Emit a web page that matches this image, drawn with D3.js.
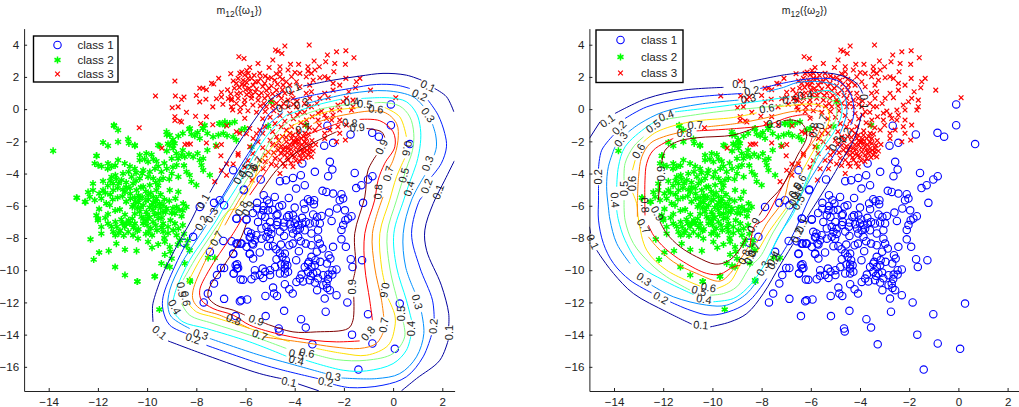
<!DOCTYPE html>
<html>
<head>
<meta charset="utf-8">
<script src="https://cdn.jsdelivr.net/npm/d3@7"></script>
<style>
body { margin: 0; background: #fff; }
text { font-family: "Liberation Sans", Arial, sans-serif; fill: #222; }
</style>
</head>
<body>
<div id="chart"></div>
<script>
const xTicks = [-14, -12, -10, -8, -6, -4, -2, 0, 2];
const yTicks = [4, 2, 0, -2, -4, -6, -8, -10, -12, -14, -16];
const levels = ["0.1", "0.2", "0.3", "0.4", "0.5", "0.6", "0.7", "0.8", "0.9"];
const levelColors = ["#00009f", "#0020ff", "#0090ff", "#00ffff", "#80ff80", "#ffe000", "#ff8000", "#ff0000", "#800000"];
const classNames = ["class 1", "class 2", "class 3"];

const class1 = [[-3.18,-3.89],[-2.47,-3.75],[-1.56,-3.96],[-2.64,-4.16],[-3.75,-4.1],[-4.07,-4.27],[-4.36,-4.41],[-4.6,-4.47],[-0.84,-4.16],[-1.02,-4.37],[-1.29,-4.72],[-1.5,-4.9],[-3.59,-4.72],[-3.94,-4.93],[-2.87,-5.07],[-2.71,-5.14],[-2.44,-5.24],[-2.1,-5.28],[-2.03,-5.55],[-2.17,-5.65],[-6.07,-5.03],[-5.26,-5.34],[-4.81,-5.45],[-4.24,-5.51],[-5.12,-5.65],[-5.53,-5.82],[-5.04,-5.86],[-3.46,-5.59],[-3.37,-5.72],[-3.21,-5.65],[-3.63,-5.86],[-3.22,-5.9],[-1.22,-5.82],[-4.51,-5.96],[-4.63,-6.05],[-4,-6.11],[-5.26,-6.01],[-5.53,-6.17],[-5.28,-6.28],[-5.08,-6.28],[-2.28,-6.17],[-1.96,-6.28],[-2.6,-6.42],[-3.59,-6.21],[-3.25,-6.54],[-2.91,-6.63],[-3.09,-6.69],[-4.74,-6.59],[-4.7,-6.52],[-4.24,-6.59],[-4.31,-6.69],[-4.07,-6.59],[-6.37,-6.79],[-5.96,-6.83],[-5.35,-6.59],[-5.49,-7],[-5,-7],[-4.7,-7],[-4.43,-7.04],[-4,-7.1],[-3.86,-7.2],[-3.7,-7.1],[-3.55,-7],[-3.39,-7.1],[-3.18,-7.04],[-2.98,-7.1],[-2.5,-6.94],[-1.69,-6.65],[-1.83,-6.79],[-1.94,-6.9],[-2.03,-7.2],[-2.1,-7.5],[-5.35,-7.41],[-5.15,-7.31],[-4.95,-7.41],[-4.74,-7.2],[-5.08,-7.62],[-5.9,-7.62],[-5.77,-7.72],[-5.56,-7.83],[-5.83,-7.95],[-4.12,-7.41],[-3.93,-7.52],[-3.79,-7.41],[-3.59,-7.52],[-4.07,-7.72],[-3.86,-7.93],[-3.32,-7.72],[-3.05,-7.52],[-4.43,-7.87],[-5.15,-7.93],[-5.01,-8.04],[-5.35,-8.04],[-5.62,-8.14],[-6.16,-8.35],[-6.37,-8.35],[-6.57,-8.2],[-5.69,-8.41],[-5.96,-8.55],[-5.08,-8.51],[-4.88,-8.51],[-4.56,-8.41],[-4.22,-8.45],[-4.08,-8.35],[-3.05,-8.04],[-2.98,-8.35],[-3.32,-8.45],[-2.87,-8.66],[-2.44,-8.55],[-2.1,-8.08],[-1.92,-8.55],[-6.5,-8.97],[-5.42,-8.9],[-5.82,-8.97],[-5.69,-9.28],[-4.74,-9.32],[-4.4,-8.97],[-4.5,-9.17],[-4.36,-9.38],[-3.83,-8.82],[-3.94,-9.38],[-3.32,-9.17],[-3.16,-9.38],[-3.42,-9.48],[-2.96,-9.48],[-2.62,-9.07],[-2.55,-9.28],[-2.69,-9.59],[-1.72,-9.32],[-1.26,-9.38],[-1.65,-9.8],[-6.34,-9.63],[-6.3,-9.86],[-6.48,-10.21],[-6.2,-10.58],[-5.62,-10],[-5.76,-10.56],[-5.42,-10.3],[-5.62,-10.35],[-5.28,-10.48],[-5.2,-10.1],[-5,-10],[-4.8,-9.8],[-5,-10.3],[-4.6,-10.2],[-4.4,-9.9],[-4.4,-10.2],[-4.27,-10.1],[-4.4,-9.65],[-3.59,-9.8],[-3.46,-9.6],[-3.32,-9.8],[-3.18,-9.7],[-3.46,-10.1],[-3.25,-10.2],[-3.1,-10.15],[-3.72,-10.27],[-3.79,-10.52],[-3.66,-10.7],[-3.93,-10.73],[-2.84,-10.31],[-2.63,-10.27],[-2.47,-10],[-2.47,-10.27],[-3.39,-10.62],[-3.18,-10.77],[-2.84,-10.93],[-2.71,-10.83],[-2.68,-11.1],[-2.57,-11.24],[-3.09,-11.24],[-4.4,-10.87],[-4.88,-11.08],[-4.22,-11.18],[-4.08,-11.45],[-2.3,-11.55],[-2.78,-11.76],[-1.86,-12],[-5.19,-11.6],[-4.84,-11.45],[-4.72,-11.6],[-6.17,-11.87],[-5.93,-11.82],[-6.23,-11.93],[0.27,-12.07],[-1.02,-12.73],[-2.74,-12.58],[-4.43,-12.52],[-5.18,-12.85],[-6.4,-12.85],[-3.74,-13.04],[-3.55,-13.56],[-4.65,-13.62],[-4.62,-13.8],[-1.67,-14],[-0.84,-14.55],[-3.28,-14.6],[0.07,-14.88],[-1.41,-16.17],[-6.87,-11.78],[-7.86,-6.07],[-7.28,-5.82],[-7.05,-5.65],[-6.87,-5.96],[-6.5,-3.79],[-6.06,-4.99],[-5.38,-4.37],[-6.36,-6.8],[-5.96,-6.86],[-8.13,-7.93],[-8.5,-8.3],[-7.45,-8.86],[-6.9,-8.18],[-6.33,-8.35],[-6.2,-8.35],[-6.5,-9],[-5.83,-9],[-7,-9.86],[-6.87,-9.86],[-7.28,-10.83],[-7.16,-10.3],[-7.53,-11.45],[-7.7,-12],[-6.4,-9.7],[-6.35,-9.9],[-6.48,-10.2],[-6.1,-10.6],[-5.73,-8.35],[-5.8,-7.93],[-0.09,0.29],[-0.09,-1],[0.68,-2.17],[-0.85,-1.47],[-0.58,-1.71],[-1.73,-1.57],[-2.44,-2.09],[-2.8,-2.27],[-2.67,-1.03],[-2.57,-3.27],[-3.69,-3.37],[-4.95,-7.75],[-4.6,-7.6],[-4.45,-7.3],[-4.2,-7.15],[-3.95,-6.85],[-3.7,-6.75],[-5.2,-6.7],[-4.9,-6.25],[-5.7,-6.45],[-3.1,-8.85],[-3.75,-8.2],[-3.55,-8.35],[-4.6,-8.95],[-4.75,-8.7],[-3.05,-10.5],[-3.35,-10.35],[-4.55,-9.65],[-4.3,-9.7],[-2.3,-9.95],[-2.65,-10.55],[-5.3,-9.9]];

const class2 = [[-11.34,-1.04],[-11.18,-1.3],[-11.79,-2.07],[-11.59,-2.28],[-11.18,-2.03],[-10.77,-1.86],[-10.74,-2.13],[-10.5,-2.28],[-12.06,-2.9],[-12.13,-3.37],[-11.99,-3.48],[-11.59,-3.37],[-11.45,-3.58],[-11.18,-3.17],[-10.91,-3.37],[-10.5,-3.69],[-10.3,-2.86],[-10.03,-2.75],[-9.82,-2.82],[-10.3,-3.17],[-9.96,-3.27],[-9.62,-3.23],[-9.49,-2.28],[-9.08,-2.24],[-8.88,-2.13],[-9.21,-1.41],[-9.08,-1.62],[-8.73,-1.68],[-8.29,-1.24],[-8.06,-1.66],[-7.86,-1.82],[-7.72,-1.2],[-7.66,-1],[-7.32,-1.72],[-7.07,-0.89],[-6.84,-0.79],[-6.64,-0.89],[-6.44,-0.79],[-6.17,-1.3],[-6.5,-1.72],[-6.37,-1.93],[-6.84,-1],[-6.03,-1.2],[-8.94,-2.44],[-8.81,-2.75],[-8.6,-2.86],[-9,-3.07],[-8.74,-3.07],[-8.47,-2.96],[-8.13,-2.96],[-7.86,-3.17],[-7.72,-3.07],[-7.79,-3.48],[-7.72,-3.79],[-7.45,-4.1],[-8.27,-4.1],[-8.2,-4.5],[-8,-4.72],[-8.8,-3.48],[-9.2,-3.69],[-9.42,-3.9],[-8.73,-4.2],[-9,-4],[-9.35,-4.3],[-8.73,-5.14],[-9.08,-5.03],[-9.49,-4.41],[-9.68,-3.69],[-9.89,-3.9],[-10.16,-3.79],[-9.96,-4.2],[-10.3,-4.3],[-10.63,-4.2],[-10.57,-4.62],[-10.98,-4],[-11.29,-4.1],[-11.45,-4.2],[-11.04,-4.41],[-11.38,-4.62],[-11.79,-4.47],[-12.2,-4.62],[-11.79,-5.03],[-11.38,-5.03],[-12.2,-5.03],[-12.33,-5.45],[-12.13,-5.65],[-12.85,-5.51],[-12.5,-5.76],[-11.86,-5.55],[-11.66,-5.86],[-11.52,-5.96],[-11.11,-6.23],[-10.98,-5],[-10.68,-5.24],[-10.43,-5.03],[-10.16,-4.82],[-9.89,-4.72],[-9.62,-5.03],[-10.68,-5.55],[-10.47,-5.76],[-10.6,-6.07],[-10.2,-5.45],[-9.96,-5.34],[-9.62,-5.55],[-9.49,-5.86],[-9.8,-5.96],[-10.16,-5.96],[-10.3,-6.38],[-10.03,-6.38],[-9.76,-6.27],[-9.55,-6.48],[-9.21,-6.17],[-8.8,-6.07],[-8.53,-5.86],[-8.4,-6.07],[-8.87,-6.48],[-10.23,-6.69],[-10.16,-6.8],[-9.96,-6.8],[-9.76,-7],[-9.55,-6.8],[-10.16,-7.1],[-10,-7.2],[-12.06,-6.59],[-11.99,-6.8],[-11.86,-7.31],[-11.59,-6.52],[-11.29,-7],[-11.23,-7.31],[-11.59,-7.1],[-11.38,-7.62],[-11.29,-7.83],[-10.91,-7.31],[-10.7,-7.1],[-10.5,-7.1],[-10.77,-7.62],[-10.57,-7.83],[-10.37,-8.04],[-11.86,-7.73],[-12.3,-8.08],[-11.25,-8.35],[-11.95,-8.9],[-12.17,-9.34],[-11.56,-8.8],[-10.9,-8.72],[-10.43,-8.8],[-11.3,-9.8],[-10.9,-10.3],[-10.4,-10.7],[-9.7,-10.4],[-9.35,-7.1],[-9.15,-7.31],[-8.87,-7.1],[-8.73,-7.42],[-8.94,-7.52],[-8.8,-7.83],[-9.35,-7.62],[-9.6,-7.52],[-9.8,-7.83],[-9.96,-8.24],[-9.8,-8.6],[-9.28,-8.24],[-9.08,-8.55],[-8.67,-8.14],[-9.28,-9.03],[-9,-9.28],[-9.42,-9.58],[-9.2,-9.73],[-9.08,-9.8],[-8.47,-9.58],[-8.27,-8.76],[-8.27,-10.62],[-7.52,-9.24],[-7.25,-9.24],[-9.5,-12.44],[-9.68,-10.37],[-10.39,-10.7],[-8.25,-10.7],[-13.82,-2.59],[-11.35,-1],[-12.87,-5.5],[-12.53,-5.76],[-9.2,-1.6],[-8.26,-1.2],[-7.74,-1.2],[-7.04,-0.9],[-9.55,-2.24],[-8.94,-2.1],[-10.5,-2.24],[-12.05,-2.9],[-4.95,0.45],[-5.08,-1.05],[-5.76,-2.34],[-3.55,-1],[-10.05,-5.1],[-9.85,-5.2],[-9.75,-5.45],[-10.35,-5.8],[-10.05,-5.7],[-9.95,-5.6],[-9.65,-5.75],[-9.35,-5.95],[-9.25,-6.4],[-9.9,-6.1],[-10.4,-6.15],[-9.7,-6.55],[-10,-6.55],[-9.4,-6.75],[-10.35,-5.35],[-10.85,-5.75],[-10.9,-6.55],[-11.05,-6.85],[-10.6,-6.8],[-10.35,-7.45],[-9.65,-7.2],[-9.05,-6.9],[-8.95,-6.15],[-9.1,-5.7],[-8.85,-5.55],[-11.2,-4.9],[-11,-5.4],[-11.15,-4.6],[-10.85,-4.85],[-9.1,-4.35],[-9.55,-4.75],[-10.25,-4.85],[-10.45,-4.45],[-8.5,-3.5],[-8.4,-3.9],[-8.95,-3.6],[-7.95,-2.75],[-7.55,-2.55],[-7.2,-2.25],[-7.1,-1.6],[-6.9,-1.5],[-8.55,-7.2],[-8.5,-7.75],[-9.3,-8],[-10.05,-7.75],[-10.4,-7.55],[-11.1,-7.55],[-12.4,-5.15],[-11.95,-5.25],[-11.6,-4.75],[-11.95,-6.2],[-11.3,-6.3],[-10.2,-4],[-10.45,-3.95],[-10.75,-3.9],[-9.75,-4.3],[-9.65,-4.55],[-10.7,-4.9],[-10.9,-5.15],[-10.5,-5.5],[-10.3,-5.55],[-10.55,-5.95],[-10.25,-6.1],[-9.45,-5.3],[-9.3,-5.6],[-9.75,-5.8],[-9.65,-6.05],[-9.45,-6.15],[-9.9,-6.7],[-10.05,-6.95],[-9.35,-6.4],[-10.5,-6.5],[-10.75,-6.9],[-10.85,-7.1],[-11,-7.1],[-10.55,-7.35],[-9.85,-7.4],[-9.95,-7.6],[-9.4,-7.35],[-9.15,-7.7],[-8.6,-6.65],[-8.7,-6.25],[-9,-6.45],[-8.55,-6.3],[-11.5,-5.3],[-11.7,-5.2],[-11.4,-5.6],[-11.2,-5.5],[-11.25,-4.35],[-11.5,-4.45],[-10.85,-4.55],[-11.6,-3.7],[-11.85,-3.55],[-11.3,-3.5],[-10.7,-3.55],[-10.1,-3.1],[-9.75,-3.1],[-9.55,-3.55],[-9.3,-3.35],[-8.55,-2.55],[-8.3,-2.8],[-9.2,-2.6],[-9.15,-2.15],[-8.95,-1.9],[-6.75,-1.65],[-7.55,-1.5],[-7.95,-1.45],[-8.2,-1.55],[-8.55,-1.5],[-12,-6.9],[-11.7,-6.75],[-11.45,-7.3],[-11.15,-7.7],[-10.95,-7.85],[-8.35,-8.15],[-8.4,-8.5],[-8.75,-8.4],[-9.55,-8.4],[-9.05,-8.85]];

const class3 = [[-3.41,3.98],[-4.4,3.92],[-4.78,3.67],[-4.68,3.6],[-4.52,3.46],[-6.27,3.25],[-6.06,3.15],[-4.89,3.05],[-5.49,2.84],[-5.83,2.59],[-5.04,2.59],[-4.6,2.63],[-2.67,3.36],[-2.74,2.94],[-2.3,3.56],[-1.92,3.63],[-1.59,3.19],[-2.37,2.84],[-1.94,2.78],[-3.21,2.99],[-3,2.63],[-3.46,2.63],[-3.84,2.78],[-4.17,2.78],[-4.27,2.43],[-4.6,2.32],[-3.99,2.28],[-3.79,2.22],[-3.46,2.36],[-3.32,2.22],[-3.18,2.43],[-3.53,2.01],[-3.25,1.8],[-3.39,1.49],[-2.41,2.32],[-2.78,2.01],[-2.98,1.95],[-2.64,1.91],[-1.92,1.91],[-1.35,1.91],[-1.49,1.7],[-2.44,1.6],[-2.17,1.49],[-1.53,1.33],[-0.92,1.18],[-1.8,1.08],[-2.44,1.18],[-2.78,0.98],[-2.64,0.71],[-2.98,0.67],[-3.32,1.08],[-3.39,0.67],[-3.53,0.98],[0.11,0.71],[-1.63,0.56],[-1.9,0.67],[-2.03,0.46],[-2.24,0.25],[-1.63,0.15],[-1.69,-0.06],[-2.5,-0.06],[-2.91,-0.12],[-2.78,-0.37],[-2.44,-0.37],[-2.17,-0.06],[-3.32,0.15],[-3.29,-0.47],[-3.05,-0.68],[-3.52,-0.68],[-2.71,-0.58],[-2.5,-0.68],[-2.17,-0.68],[-1.9,-0.99],[-2.24,-1.09],[-3.18,-1.3],[-2.78,-1.5],[-2.57,-1.3],[-2.78,-1.82],[-2.17,-1.5],[-1.94,-1.92],[-2.3,-2.03],[-4.13,-1.82],[-3.93,-2.03],[-3.73,-1.82],[-3.52,-2.13],[-3.39,-2.44],[-3.59,-2.44],[-3.79,-2.34],[-4.07,-2.23],[-4.27,-2.44],[-3.93,-2.65],[-3.66,-2.75],[-3.46,-2.85],[-4.13,-2.75],[-4.4,-2.85],[-4.6,-3.16],[-4.07,-3.58],[-3.86,-1.61],[-4.07,-1.61],[-3.59,-1.5],[-4.47,-2.54],[-4.34,-2.03],[-4,-2.96],[-3.73,-3.06],[-3.32,-2.96],[-3.52,-1.82],[-4.27,-3.16],[-4.47,-3.37],[-4.67,-2.54],[-4.6,-3.99],[-3.59,-1],[-3.89,-0.37],[-4.13,-1.09],[-4.34,-1.3],[-6.23,2.22],[-6.03,2.12],[-5.89,2.22],[-6.3,1.91],[-6.1,1.8],[-5.89,1.91],[-5.42,2.22],[-5.08,1.91],[-4.81,1.8],[-4.6,2.01],[-4.34,1.7],[-4.13,2.01],[-4.47,1.49],[-4.2,1.49],[-3.93,1.7],[-3.79,1.39],[-5.22,1.6],[-5.49,1.7],[-5.69,1.49],[-6.03,1.49],[-6.37,1.6],[-5.04,1.29],[-4.74,1.18],[-4.4,0.98],[-4.13,0.98],[-4.07,0.67],[-4.27,0.56],[-4.54,0.67],[-4.27,0.15],[-4.2,-0.27],[-3.93,0.15],[-3.79,-0.16],[-4.54,0.15],[-4.74,0.36],[-4.95,0.56],[-5.22,0.67],[-5.49,0.56],[-5.76,0.67],[-6.03,0.56],[-6.3,0.67],[-6.57,0.56],[-8.87,1.74],[-9.66,0.82],[-8.85,0.82],[-10.32,-1.16],[-9.4,-2.42],[-8.46,-2.2],[-8.35,-2.17],[-8.24,-2.17],[-8.5,0.75],[-8.6,0.6],[-8,0.85],[-7.86,1.3],[-7.73,1.3],[-7.59,1.2],[-7.38,1.6],[-7.29,1.56],[-7.09,1.91],[-7.86,0.45],[-7.61,0.62],[-8.98,0.08],[-8.74,0.14],[-8.4,-0.2],[-8.87,-0.47],[-8.87,-0.7],[-8.67,-0.74],[-8.6,-0.8],[-8.03,-0.44],[-7.82,-0.89],[-7.59,-0.47],[-7.33,-0.97],[-6.76,-1.03],[-6.98,1.05],[-6.73,1.2],[-6.98,0.75],[-7.18,0.65],[-6.7,0.65],[-6.57,0.65],[-6.92,0.3],[-7.33,0.14],[-6.57,0.14],[-6.37,0.35],[-6.52,-0.05],[-6.23,-0.16],[-6.03,-0.57],[-6.37,-1.4],[-6.23,-1.5],[-7.59,-2.1],[-7.18,-2.3],[-6.98,-2.2],[-7,-2.9],[-6.77,-3.4],[-6.3,-2.75],[-6.98,-3.8],[-7.25,-4.5],[-6.77,-4.1],[-5.73,-4.4],[-6.5,-3.4],[-6.3,-2.86],[-5.9,-3.2],[-6.03,-3.6],[-5.7,-2.76],[-5.83,-2.34],[-5.42,-3.17],[-5.28,-3.7],[-5.62,-3.7],[-5.2,-2.86],[-4.95,-3.4],[-5.08,-2.66],[-5.49,-2.03],[-5.69,-1.82],[-5.55,-1.53],[-5.96,-1.53],[-5.83,-1.2],[-5.42,-1.3],[-5.22,-1.1],[-5,-1.93],[-4.74,-2.24],[-4.74,-1.72],[-6.25,1.35],[-6,1.2],[-5.8,1.1],[-5.6,1.05],[-5.35,1],[-5.1,0.85],[-6.2,1],[-5.95,0.9],[-5.7,0.25],[-5.4,0.2],[-5.15,0.15],[-4.85,-0.1],[-4.6,-0.4],[-5,-0.5],[-5.3,-0.6],[-4.4,-0.75],[-3.8,-2.85],[-3.7,-2.2],[-3.6,-2.65],[-4.2,-2.2],[-3.95,-2.4],[-4.3,-2.7],[-4.55,-2.3],[-3.5,-2.55],[-3.9,-1.85],[-4.15,-2.5],[-3.75,-2.55],[-3.35,-2.25],[-4.5,-1.7],[-4.05,-1.95],[-6.6,2.2],[-6.5,1.75],[-6.45,1.3],[-6.35,0.95],[-6.15,2.3],[-6.15,1.55],[-6.05,0.3],[-5.95,2.4],[-5.95,1.65],[-5.85,1.3],[-5.75,1.9],[-5.75,0.85],[-5.65,2.1],[-5.6,1.7],[-5.55,1.25],[-5.45,0.85],[-5.4,1.9],[-5.3,1.4],[-5.25,0.35],[-5.2,2.05],[-5.15,1.15],[-4.95,1.95],[-4.95,1.45],[-4.9,0.95],[-4.75,2.2],[-4.7,1.55],[-4.65,0.85],[-4.5,1.85],[-4.5,1.2],[-6.6,0.95],[-6.2,0.1],[-5.9,-0.1],[-5.55,-0.2],[-5.2,-0.15],[-4.85,-2.7],[-4.8,-3.05],[-4.65,-1.95],[-4.55,-2.75],[-4.4,-2.35],[-4.35,-1.75],[-4.3,-3],[-4.2,-1.5],[-4.1,-2.9],[-4,-2.05],[-3.95,-3.2],[-3.85,-1.35],[-3.85,-2.1],[-3.8,-3.25],[-3.65,-1.7],[-3.6,-2.05],[-3.55,-3],[-3.45,-1.55],[-3.4,-2.65],[-3.3,-1.95],[-3.25,-2.6],[-3.15,-2.2],[-4.75,-3.5],[-4.4,-3.55],[-4.15,-3.35],[-5.2,-3.25],[-5.3,-2.4],[-4.9,-2.2],[-3.9,0.5],[-3.6,0.35],[-3.6,-0.2],[-3.45,0.15],[-3.1,0.35],[-3.05,-0.25],[-4.05,-0.6],[-3.75,-0.85],[-3.4,-1.15],[-3,-1],[-4.55,-1.1],[-4.8,-0.9],[-4.05,0.3],[-4.45,0.35],[-4.9,0.2],[-5.3,-1.5],[-4.9,-1.4]];

// contour pieces per level, broken where the labels sit
const left01 = [[[1.69,1.28],[2.17,0.77],[2.47,-0.17]],[[2.49,-3.21],[2.1,-4.41],[1.63,-5.86],[1.29,-7.51],[1.36,-8.76],[1.96,-10.93],[2.26,-12.69],[2.26,-13.48]],[[2.24,-14.35],[1.9,-15.59],[0.95,-16.73],[0.34,-17.49]],[[-3.02,-17.49],[-3.86,-17.06]],[[-4.54,-16.73],[-5.42,-16.42],[-7.59,-15.28],[-9.15,-14.39]],[[-9.76,-13.21],[-9.78,-12.28],[-9.73,-11.86],[-9.35,-10.2],[-8.81,-8.55],[-8.2,-6.89],[-7.95,-6.1]],[[-7.45,-5.18],[-7.05,-4.1],[-6.5,-2.65],[-5.69,-0.79],[-5.01,0.56],[-4.47,1.08]],[[-3.66,1.43],[-2.44,1.8],[-1.36,2.05],[-0.41,2.22],[0.54,2.11],[1.15,1.8]]];
const left02 = [[[1.42,0.56],[1.83,-0.37],[2.1,-1.51],[2.17,-2.34],[1.96,-3.37],[1.56,-4.2]],[[1.19,-5.45],[1.08,-5.65],[0.75,-7.72],[1.08,-9.8],[1.6,-11.86],[1.67,-13]],[[1.56,-14.03],[1.22,-15.38],[0.54,-16.62],[-0.41,-17.14],[-1.76,-17.29],[-2.44,-17.08]],[[-3.05,-16.73],[-4.47,-16.21],[-5.42,-15.8],[-7.59,-14.66]],[[-8.4,-13.93],[-9.08,-13.41],[-9.35,-12.48],[-9.35,-11.65],[-8.88,-9.79],[-8.4,-8.34],[-8,-7.41]],[[-7.45,-6.58],[-6.91,-5.34],[-6.23,-3.58],[-5.56,-1.93],[-5.08,-0.37],[-4.67,0.14]],[[-4.13,0.6],[-3.12,0.91],[-1.76,1.28],[-0.68,1.53],[0.14,1.49],[0.68,1.28]]];
const left03 = [[[-3.52,0.35],[-1.76,0.97],[-0.27,1.14],[0.81,0.77],[1.22,0.19]],[[1.6,-0.93],[1.73,-1.61],[1.76,-2.34],[1.67,-2.86]],[[1.29,-4.1],[0.75,-5.65],[0.41,-7.72],[0.51,-9.8],[0.88,-11.34]],[[1.15,-12.59],[1.25,-13.93],[0.95,-15.38],[0.27,-16.42],[-0.68,-16.73],[-2.1,-16.69]],[[-2.74,-16.42],[-4.2,-15.8],[-5.42,-15.28],[-7.45,-14.24]],[[-8.27,-13.62],[-9.01,-12.9],[-9.15,-12.28],[-9.08,-11.24],[-8.6,-9.58],[-7.99,-8.13],[-7.59,-7.2]],[[-7.18,-6.17],[-6.64,-4.82],[-5.96,-3.17],[-5.42,-1.72],[-5.15,-1.1],[-4.47,-0.17]]];
const left04 = [[[-4.34,-0.37],[-3.12,0.25],[-2.1,0.62]],[[-1.29,0.66],[-0.14,0.7],[0.54,0.46],[0.95,-0.27],[1.11,-1.2],[1.11,-2.13],[0.95,-3.37],[0.68,-4.51],[0.43,-5.65],[0.03,-7.72],[0.14,-9.8],[0.54,-11.86],[0.75,-13.1]],[[0.72,-14.1],[0.54,-14.97],[0,-15.8],[-1.08,-16.25],[-2.03,-16.21],[-3.55,-15.59]],[[-4.34,-15.34],[-5.83,-14.45],[-7.59,-13.62],[-8.54,-13.21],[-8.94,-12.59]],[[-8.94,-11.86],[-8.81,-11.14],[-8.27,-9.38],[-7.72,-8.13],[-7.18,-6.89],[-6.91,-6.17],[-6.23,-4.52],[-5.69,-2.96],[-5.01,-1.41],[-4.34,-0.37]]];
const left05 = [[[-4.2,-0.68],[-2.85,0.04],[-1.49,0.35]],[[-0.75,0.39],[-0.41,0.41],[0.27,0.19],[0.68,-0.48],[0.84,-1.51],[0.79,-2.55],[0.54,-3.69],[0.14,-5.65],[-0.24,-7.72],[-0.14,-9.8],[0.14,-11.65],[0.27,-12.28]],[[0.41,-13.21],[0.47,-14.14],[0,-15.17],[-1.08,-15.59],[-2.3,-15.55],[-3.32,-15.17]],[[-4.34,-14.86],[-5.83,-14.03],[-7.32,-13.31],[-8.27,-12.79],[-8.6,-12.07]],[[-8.54,-10.62],[-7.99,-9.17],[-7.45,-7.93],[-6.91,-6.69],[-6.64,-6.17],[-5.96,-4.41],[-5.4,-3.1],[-4.88,-1.72],[-4.2,-0.68]]];
const left06 = [[[-4.07,-1],[-2.71,-0.17],[-1.36,0.1]],[[-0.34,0.1],[0.27,-0.48],[0.54,-1.72]],[[0.47,-3.06],[0.14,-4.2],[-0.14,-5.65],[-0.54,-7.72],[-0.47,-9.8],[-0.34,-10.83]],[[-0.2,-11.76],[0.07,-12.79],[0.07,-13.52],[-0.2,-14.66],[-1.08,-15.28],[-2.03,-15.17],[-3.12,-14.86]],[[-4.2,-14.45],[-5.83,-13.62],[-7.32,-12.9],[-7.99,-12.59],[-8.33,-12.07]],[[-8.37,-10.83],[-7.86,-9.38],[-7.32,-8.13],[-6.64,-6.27],[-6.37,-6.17],[-5.69,-4.52],[-5.42,-3.37],[-4.67,-1.93],[-4.07,-1]]];
const left07 = [[[-3.25,-0.89],[-2.03,-0.37],[-0.41,-0.17],[0.14,-0.89],[0.2,-1.93],[0,-3.17],[-0.2,-3.79]],[[-0.41,-5.45],[-0.84,-7.72],[-0.75,-9.8],[-0.47,-11.86],[-0.38,-12.9]],[[-0.41,-13.89],[-0.68,-14.55],[-1.36,-14.86],[-2.44,-14.76],[-3.52,-14.51],[-5.28,-14.14]],[[-5.83,-13.62],[-7.05,-12.79],[-7.86,-12.38],[-8.13,-11.86],[-8.13,-11.24],[-7.72,-9.69],[-7.32,-8.55]],[[-6.84,-7.21],[-6.1,-5.24],[-5.28,-3.58],[-4.54,-2.13],[-4.07,-1.41]]];
const left08 = [[[-5.08,-3.69],[-4.47,-2.55],[-3.79,-1.82],[-2.44,-0.99],[-2.03,-0.79]],[[-1.36,-0.64],[-0.54,-0.72],[0,-1.41],[0.07,-2.34],[-0.34,-3.37],[-0.61,-4.41],[-0.75,-5.65],[-1.15,-7.72],[-1.15,-9.8],[-0.95,-11.86],[-0.84,-13.1]],[[-1.36,-14.39],[-2.3,-14.45],[-3.25,-14.35],[-4.47,-14.03],[-5.83,-13.41],[-6.5,-12.79],[-7.32,-12.38],[-7.79,-11.86],[-7.86,-11.24],[-7.52,-10.1],[-7.05,-8.96],[-6.5,-7.72],[-6.1,-6.69]],[[-5.83,-5.34],[-5.08,-3.69]]];
const left09 = [[[-5.42,-5.24],[-4.74,-3.79],[-3.79,-2.55],[-2.3,-1.41]],[[-1.08,-1.2],[-0.47,-1.41],[-0.34,-1.76]],[[-0.68,-2.86],[-1.02,-3.79],[-1.15,-5.45],[-1.56,-7.72],[-1.52,-9.8],[-1.63,-10.62]],[[-1.6,-11.65],[-1.63,-13.1],[-1.83,-13.62],[-3.12,-13.83],[-4.07,-13.83],[-5.01,-13.41],[-5.35,-13.21]],[[-6.03,-12.79],[-6.5,-12.48],[-7.18,-12.17],[-7.52,-11.65],[-7.45,-11.03],[-6.91,-9.79],[-6.23,-8.14],[-5.96,-7.1]]];
const leftContours = [left01, left02, left03, left04, left05, left06, left07, left08, left09];

const right01 = [[[-15,-1.82],[-14.57,-0.79]],[[-13.96,-0.27],[-12.67,0.66],[-11.18,1.18],[-9.55,1.35]],[[-8.47,1.7],[-6.98,2.15],[-5.89,2.28],[-4.81,2.11],[-4.13,1.59],[-3.89,0.97]],[[-3.93,-0.27],[-4.2,-1.72],[-4.81,-3.37],[-5.2,-4.4],[-6.23,-6.9]],[[-6.71,-8.35],[-7.25,-9.69],[-7.93,-11.45],[-8.6,-12.69],[-9.28,-13.21],[-10.09,-13.52]],[[-10.84,-13.35],[-11.86,-12.59],[-13.21,-11.45],[-14.02,-10.2],[-14.57,-9.07],[-14.7,-8.76]],[[-14.95,-7.72],[-15,-7.3]]];
const right02 = [[[-14.63,-3.69],[-14.5,-2.55],[-14.02,-1.61]],[[-13.55,-0.58],[-12.67,0.14],[-11.18,0.66],[-8.81,0.97]],[[-8.06,1.28],[-6.84,1.7],[-5.89,1.9],[-4.95,1.8],[-4.47,1.18],[-4.27,0.35],[-4.27,-0.48],[-4.38,-0.99]],[[-4.74,-2.13],[-5.28,-3.37],[-6.03,-5.45],[-6.77,-7.93],[-7.25,-9.17]],[[-7.79,-10.52],[-8.47,-11.86],[-9.15,-12.48],[-10.09,-12.79],[-10.91,-12.48],[-11.72,-11.96]],[[-12.47,-11.41],[-13.35,-10.62],[-14.02,-9.58],[-14.43,-8.34],[-14.63,-6.89],[-14.63,-5.65],[-14.63,-4.72]]];
const right03 = [[[-13.96,-2.34],[-14.23,-3.58],[-14.3,-4.82],[-14.23,-6.06],[-14.16,-6.89],[-13.89,-8.34],[-13.35,-9.58]],[[-12.47,-10.93],[-11.59,-11.65],[-10.23,-12.17],[-9.42,-12.17],[-8.6,-11.45],[-8.13,-10.52]],[[-7.66,-9.07],[-7.45,-8.35],[-6.71,-6.27],[-6.44,-5.45],[-5.62,-3.37],[-5.22,-2.55]],[[-4.81,-1.51],[-4.54,-0.27],[-4.61,0.77],[-4.88,1.39],[-5.62,1.7],[-6.57,1.64],[-7.11,1.35],[-7.79,1.08]],[[-8.94,0.56],[-10.5,0.31],[-11.99,-0.17],[-12.94,-0.89],[-13.41,-1.41]]];
const right04 = [[[-13.89,-4.82],[-13.82,-3.58],[-13.55,-2.34],[-12.67,-1.1],[-12.26,-0.72]],[[-11.52,-0.17],[-9.82,0.14],[-7.79,0.56],[-6.84,0.77]],[[-5.89,1.01],[-5.22,1.14],[-4.81,0.56],[-4.74,-0.27],[-5.01,-1.3],[-5.56,-2.55],[-6.17,-4.41],[-6.71,-6.48],[-7.25,-7.72],[-7.72,-9.17],[-8.06,-10.1],[-8.6,-11.14],[-9.15,-11.76],[-9.96,-11.96]],[[-10.77,-11.51],[-11.99,-10.62],[-12.87,-9.79],[-13.55,-8.14],[-13.82,-6.89],[-13.89,-6.27]]];
const right05 = [[[-13.59,-4.41],[-13.55,-3.37],[-13.21,-2.34],[-12.8,-1.72]],[[-12.13,-0.68],[-9.82,-0.17],[-7.79,0.14],[-7.11,0.25]],[[-6.44,0.6],[-5.49,0.72],[-5.01,0.35],[-4.95,-0.37],[-5.22,-1.41],[-5.76,-2.75],[-6.23,-4.83],[-6.91,-6.17],[-7.52,-7.62],[-8.06,-9.17],[-8.47,-9.79],[-9.01,-11.03],[-9.55,-11.45],[-10.09,-11.55]],[[-10.91,-11.24],[-11.86,-10.41],[-12.53,-9.58],[-13.21,-8.34],[-13.55,-6.89],[-13.59,-5.65]]];
const right06 = [[[-13.25,-3.79],[-13.14,-3.17]],[[-12.8,-2.03],[-12.26,-1.41],[-10.91,-0.79],[-9.15,-0.52],[-8.2,-0.23]],[[-7.32,0.14],[-5.89,0.31],[-5.35,0.04],[-5.24,-0.58],[-5.49,-1.51],[-6.03,-2.96],[-6.4,-4]],[[-6.98,-6.1],[-7.66,-7.52],[-8.27,-8.97],[-8.74,-9.38],[-9.28,-10.72],[-9.82,-11.14]],[[-10.5,-10.99],[-11.86,-10],[-12.67,-8.76],[-13,-6.89],[-13.08,-5.86],[-13.24,-5.2]]];
const right07 = [[[-13.05,-5.86],[-13,-4.2],[-12.87,-2.96],[-12.53,-2.13],[-11.99,-1.72],[-11.04,-1.35]],[[-10.23,-1.1],[-9.01,-0.89],[-7.93,-0.58],[-6.84,-0.17],[-6.17,-0.06],[-5.62,-0.17],[-5.5,-0.45]],[[-5.6,-1.15],[-5.69,-1.51],[-6.3,-2.86],[-6.84,-4.2],[-7.11,-5.65],[-7.79,-7.1],[-8.2,-8.3]],[[-8.54,-8.55],[-9.28,-10.2],[-9.69,-10.68],[-10.64,-10.2],[-11.59,-9.48],[-12.26,-8.55],[-12.6,-7.93]],[[-13.05,-6.68],[-13.05,-5.86]]];
const right08 = [[[-12.74,-6.6],[-12.74,-4.41],[-12.67,-3.37],[-12.4,-2.55],[-11.59,-1.82]],[[-10.64,-1.35],[-9.01,-1.2],[-7.79,-0.99],[-6.84,-0.48],[-6.1,-0.37],[-5.9,-0.6]],[[-5.95,-1.75],[-6.03,-2.13],[-6.57,-3.37],[-7.05,-4.51],[-7.93,-6.9],[-8.27,-7.2],[-8.47,-8.55]],[[-8.87,-9.7],[-9.15,-9.79],[-9.69,-10.25],[-10.23,-10.2],[-11.18,-9.48],[-11.92,-8.65],[-12.4,-7.82],[-12.6,-7.2]]];
const right09 = [[[-12.06,-3.37],[-11.92,-2.55],[-11.45,-2.03],[-10.64,-1.78],[-9.15,-1.61],[-8.33,-1.2]],[[-7.11,-0.72],[-6.71,-0.68],[-6.3,-0.99],[-6.17,-1.72],[-6.57,-2.96],[-7.18,-4.83],[-7.79,-5.87],[-8.1,-6.6]],[[-8.6,-7.93],[-9.01,-8.96],[-9.42,-9.48],[-9.89,-9.62],[-10.64,-9.17],[-11.31,-8.55],[-11.86,-7.72],[-12.13,-7]],[[-12.2,-5.65],[-12.13,-4.51]]];
const rightContours = [right01, right02, right03, right04, right05, right06, right07, right08, right09];

// text, x, y, rotation
const leftLabels = [["0.1",1.42,1.43,25],["0.2",1.08,0.87,25],["0.3",1.42,-0.37,55],["0.3",1.4,-3.37,-70],["0.2",1.36,-4.78,-70],["0.1",1.83,-5.13,-70],["0.9",-0.47,-2.34,-65],["0.6",0.57,-2.44,100],["0.7",-0.2,-4,-75],["0.5",0.43,-4.1,-75],["0.4",0.65,-4.93,-75],["0.8",-0.61,-5.13,-85],["0.4",-1.69,0.46,-5],["0.5",-1.15,0.31,5],["0.6",-0.7,0,5],["0.8",-1.76,-0.85,5],["0.9",-1.46,-1.14,-5],["0.7",-3.66,-1.2,-15],["0.1",-4.07,1.28,-20],["0.2",-4.47,0.19,-30],["0.3",-3.73,0.35,-20],["0.9",-1.65,-11.03,-90],["0.6",-0.34,-11.24,100],["0.5",0.34,-12.69,-90],["0.3",0.98,-11.96,75],["0.4",0.75,-13.62,-90],["0.2",1.63,-13.48,-85],["0.1",2.26,-13.87,-90],["0.7",-0.38,-13.41,-80],["0.8",-1.02,-13.93,-50],["0.3",-2.44,-16.58,10],["0.2",-2.74,-16.93,10],["0.1",-4.23,-16.93,12],["0.6",-3.5,-15.13,10],["0.5",-3.93,-15.22,15],["0.4",-3.93,-15.59,15],["0.7",-5.42,-14.03,20],["0.9",-5.56,-13.1,20],["0.8",-6.48,-13.06,20],["0.3",-7.82,-13.99,18],["0.2",-8.13,-14.24,18],["0.1",-9.49,-13.87,40],["0.4",-8.88,-12.28,60],["0.5",-8.6,-11.2,80],["0.6",-8.43,-11.76,80],["0.7",-7.18,-8.03,-60],["0.2",-7.79,-7.06,-60],["0.3",-7.38,-6.58,-60],["0.1",-7.72,-5.72,-60],["0.8",-6.17,-6.17,-60],["0.9",-5.89,-6.17,-60],["0.4",-6.23,-4.2,-60],["0.5",-6.03,-3.79,-60],["0.6",-5.76,-3.79,-60],["0.7",-5.56,-3.4,-60]];
const rightLabels = [["0.1",-14.27,-0.72,-35],["0.2",-13.79,-1.14,-45],["0.3",-13.72,-1.88,-55],["0.4",-11.88,-0.41,-20],["0.5",-12.4,-1.06,-35],["0.6",-13,-2.59,-60],["0.7",-10.7,-0.99,-3],["0.8",-11.14,-1.51,0],["0.9",-7.49,-0.93,0],["0.6",-7.79,0.04,-10],["0.1",-8.88,1.55,0],["0.2",-8.4,1.14,-10],["0.3",-8.54,0.66,-10],["0.2",-14.63,-4.2,-90],["0.6",-13.28,-4.62,-90],["0.5",-13.59,-4.93,-90],["0.4",-13.96,-5.65,85],["0.9",-12.1,-4,-90],["0.7",-12.8,-7.27,60],["0.8",-12.74,-5.96,85],["0.9",-12.24,-6.48,60],["0.1",-14.86,-8.24,65],["0.3",-12.78,-10.56,35],["0.2",-12.1,-11.72,30],["0.1",-10.47,-13.41,5],["0.6",-10.16,-11.07,10],["0.5",-10.54,-11.28,15],["0.4",-10.34,-11.8,10],["0.3",-7.95,-9.89,-60],["0.9",-8.33,-7.2,-60],["0.8",-8.71,-9.17,-65],["0.8",-8.47,-9.17,-65],["0.4",-7.52,-9.27,-60],["0.7",-8.31,-8.75,-60],["0.4",-6.23,0.87,-5],["0.5",-6.84,0.56,-5],["0.1",-3.86,0.46,90],["0.3",-5.01,-2.13,-60],["0.2",-4.61,-1.61,-60],["0.7",-5.56,-0.79,-70],["0.8",-5.89,-1.3,-80],["0.6",-6.44,-4.51,-60],["0.5",-6.64,-5.03,-60],["0.4",-6.64,-5.55,-60],["0.1",-6.37,-7.2,-65],["0.2",-6.57,-7.83,-65],["0.2",-7.52,-9.49,-60],["0.6",-6.57,-5.14,-60],["0.5",-6.5,-5.8,-60]];

const width = 1019, height = 407;
const svg = d3.select("#chart").append("svg")
    .attr("width", width)
    .attr("height", height)
    .style("display", "block");

const top_ = 28.6, bottom = 391;

function drawPanel(opts) {
    const x = d3.scaleLinear().domain([-15, 2.5]).range([opts.left, opts.left + 430.5]);
    const y = d3.scaleLinear().domain([-17.5, 5]).range([bottom, top_]);
    const g = svg.append("g");

    const clipId = "clip" + opts.index;
    svg.append("clipPath").attr("id", clipId)
        .append("rect")
        .attr("x", opts.left).attr("y", top_)
        .attr("width", 430.5).attr("height", bottom - top_);

    // class 1 below, class 3 on top
    g.append("g").selectAll("circle").data(class1).enter().append("circle")
        .attr("cx", d => x(d[0]))
        .attr("cy", d => y(d[1]))
        .attr("r", 3.7)
        .attr("fill", "none")
        .attr("stroke", "#0000ff")
        .attr("stroke-width", 1.1);

    const star = d3.symbol().type(d3.symbolAsterisk).size(34);
    g.append("g").selectAll("path").data(class2).enter().append("path")
        .attr("d", star)
        .attr("transform", d => `translate(${x(d[0])},${y(d[1])})`)
        .attr("fill", "none")
        .attr("stroke", "#00ff00")
        .attr("stroke-width", 1.5);

    const cross = d3.symbol().type(d3.symbolTimes).size(16);
    g.append("g").selectAll("path").data(class3).enter().append("path")
        .attr("d", cross)
        .attr("transform", d => `translate(${x(d[0])},${y(d[1])})`)
        .attr("fill", "none")
        .attr("stroke", "#ff0000")
        .attr("stroke-width", 1.2);

    const line = d3.line()
        .x(d => x(d[0]))
        .y(d => y(d[1]))
        .curve(d3.curveCatmullRom.alpha(0.5));

    const contourG = g.append("g").attr("clip-path", `url(#${clipId})`);
    opts.contours.forEach((pieces, i) => {
        contourG.append("g").selectAll("path").data(pieces).enter().append("path")
            .attr("d", line)
            .attr("fill", "none")
            .attr("stroke", levelColors[i])
            .attr("stroke-width", 1);
    });

    g.append("g").selectAll("text").data(opts.labels).enter().append("text")
        .attr("transform", d => `translate(${x(d[1])},${y(d[2])}) rotate(${d[3]})`)
        .attr("text-anchor", "middle")
        .attr("dy", "0.35em")
        .style("font-size", "11px")
        .text(d => d[0]);

    const xAxis = d3.axisBottom(x).tickValues(xTicks).tickSizeInner(-3).tickSizeOuter(0).tickPadding(7);
    const yAxis = d3.axisLeft(y).tickValues(yTicks).tickSizeInner(-3).tickSizeOuter(0).tickPadding(5);
    const gx = g.append("g").attr("transform", `translate(0,${bottom})`).call(xAxis);
    const gy = g.append("g").attr("transform", `translate(${opts.left},0)`).call(yAxis);
    [gx, gy].forEach(a => {
        a.selectAll("text").style("font-size", "11.6px");
        a.selectAll("line").attr("stroke", "#222");
        a.select(".domain").attr("stroke", "#222");
    });

    // title with subscripts
    const title = g.append("text")
        .attr("x", opts.left + 215)
        .attr("y", 14)
        .attr("text-anchor", "middle")
        .style("font-size", "10.5px");
    title.append("tspan").text("m");
    title.append("tspan").attr("dy", 3).style("font-size", "8.5px").text("12");
    title.append("tspan").attr("dy", -3).text("({ω");
    title.append("tspan").attr("dy", 3).style("font-size", "8.5px").text(opts.sub);
    title.append("tspan").attr("dy", -3).text("})");

    // legend
    const l = opts.legend;
    const lg = g.append("g").attr("transform", `translate(${l.x},${l.y})`);
    lg.append("rect")
        .attr("width", l.w).attr("height", l.h)
        .attr("fill", "#fff").attr("stroke", "#000").attr("stroke-width", 1.4);
    classNames.forEach((name, i) => {
        const cy = l.rows[i];
        if (i === 0) {
            lg.append("circle").attr("cx", l.sx).attr("cy", cy).attr("r", 3.7)
                .attr("fill", "none").attr("stroke", "#0000ff").attr("stroke-width", 1.1);
        } else if (i === 1) {
            lg.append("path").attr("d", star).attr("transform", `translate(${l.sx},${cy})`)
                .attr("fill", "none").attr("stroke", "#00ff00").attr("stroke-width", 1.5);
        } else {
            lg.append("path").attr("d", cross).attr("transform", `translate(${l.sx},${cy})`)
                .attr("fill", "none").attr("stroke", "#ff0000").attr("stroke-width", 1.2);
        }
        lg.append("text").attr("x", l.tx).attr("y", cy).attr("dy", "0.35em")
            .style("font-size", "11.6px").text(name);
    });
}

drawPanel({
    index: 1, left: 24.1, contours: leftContours, labels: leftLabels, sub: "1",
    legend: {x: 33.5, y: 36, w: 84.5, h: 46, sx: 24, tx: 44, rows: [9, 24, 38]}
});
drawPanel({
    index: 2, left: 589.4, contours: rightContours, labels: rightLabels, sub: "2",
    legend: {x: 596, y: 30, w: 87, h: 52.5, sx: 24.5, tx: 45, rows: [10, 27, 43]}
});
</script>
</body>
</html>
